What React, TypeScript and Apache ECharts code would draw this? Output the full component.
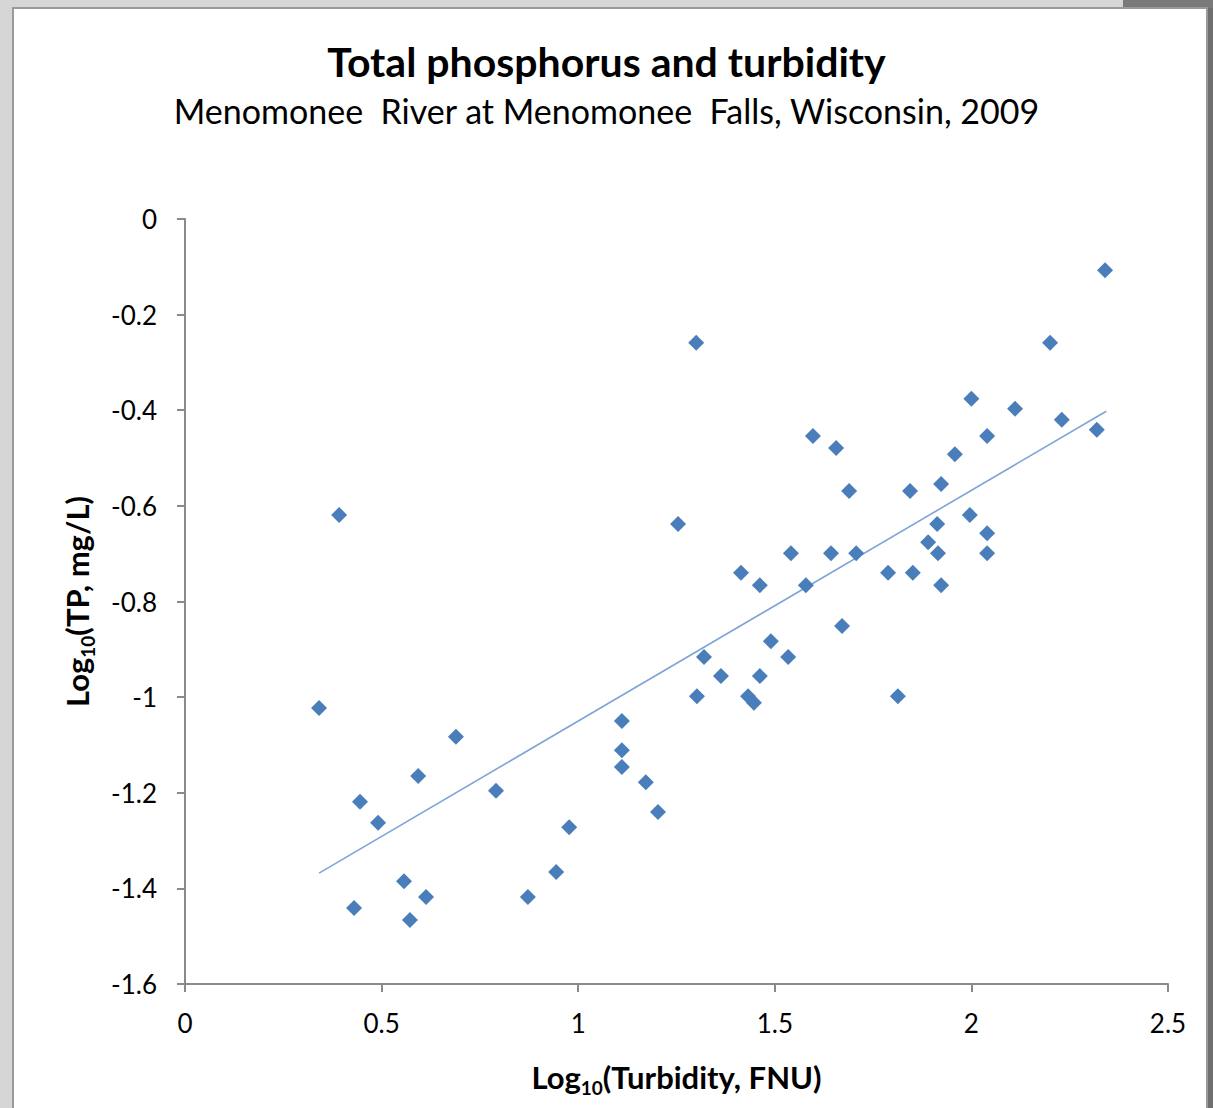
import React, { useEffect, useRef } from "react";
import * as echarts from "echarts";

const titleText = "Total phosphorus and turbidity";
const subtitleText = "Menomonee  River at Menomonee  Falls, Wisconsin, 2009";

// Log10(Turbidity, FNU)
const turbidityLog = [
  0.341, 0.392, 0.430, 0.445, 0.491, 0.557, 0.572, 0.593, 0.613, 0.689,
  0.791, 0.872, 0.944, 0.977, 1.111, 1.111, 1.111, 1.172, 1.203, 1.254,
  1.300, 1.302, 1.320, 1.363, 1.414, 1.432, 1.447, 1.462, 1.462, 1.490,
  1.534, 1.541, 1.579, 1.597, 1.643, 1.656, 1.671, 1.689, 1.707, 1.788,
  1.813, 1.844, 1.851, 1.890, 1.913, 1.915, 1.923, 1.923, 1.958, 2.000,
  1.996, 2.040, 2.040, 2.040, 2.111, 2.200, 2.230, 2.319, 2.340,
];
// Log10(TP, mg/L)
const phosphorusLog = [
  -1.023, -0.619, -1.441, -1.219, -1.263, -1.385, -1.466, -1.165, -1.418, -1.083,
  -1.196, -1.418, -1.366, -1.272, -1.050, -1.111, -1.146, -1.178, -1.240, -0.638,
  -0.259, -0.998, -0.916, -0.956, -0.740, -0.998, -1.012, -0.766, -0.956, -0.883,
  -0.916, -0.699, -0.766, -0.454, -0.699, -0.479, -0.851, -0.569, -0.699, -0.740,
  -0.998, -0.569, -0.740, -0.676, -0.638, -0.699, -0.554, -0.766, -0.492, -0.376,
  -0.619, -0.454, -0.657, -0.699, -0.397, -0.259, -0.420, -0.441, -0.107,
];
// Linear trend line end points
const trendX = [0.341, 2.343];
const trendY = [-1.368, -0.402];

const xTicks = { min: 0, max: 2.5, interval: 0.5 };
const yTicks = { min: -1.6, max: 0, interval: 0.2 };

const FONT = "Lato, 'Open Sans', sans-serif";

const nameRich = {
  a: { fontSize: 31, fontWeight: "bold", color: "#000", fontFamily: FONT },
  s: {
    fontSize: 19,
    fontWeight: "bold",
    color: "#000",
    fontFamily: FONT,
    padding: [22, 0, 0, 0],
  },
};

export default function App() {
  const ref = useRef<HTMLDivElement>(null);

  useEffect(() => {
    if (!ref.current) return;
    const chart = echarts.init(ref.current, null, { renderer: "svg" });
    const points = turbidityLog.map((x, i) => [x, phosphorusLog[i]]);
    const trend = trendX.map((x, i) => [x, trendY[i]]);

    chart.setOption({
      animation: false,
      backgroundColor: "#d6d6d6",
      textStyle: { fontFamily: FONT },
      graphic: [
        {
          type: "rect",
          z: -10,
          shape: { x: 1207, y: 0, width: 6, height: 1108 },
          style: { fill: "#6f6f6f" },
        },
        {
          type: "rect",
          z: -10,
          shape: { x: 1123, y: 0, width: 90, height: 8 },
          style: { fill: "#7a7a7a" },
        },
        {
          type: "rect",
          z: -9,
          shape: { x: 13, y: 8, width: 1194, height: 1110 },
          style: { fill: "#ffffff", stroke: "#9a9a9a", lineWidth: 2 },
        },
      ],
      title: [
        {
          text: titleText,
          left: "center",
          top: 36,
          textStyle: {
            fontFamily: FONT,
            fontSize: 41,
            fontWeight: "bold",
            color: "#000",
          },
        },
        {
          text: subtitleText,
          left: "center",
          top: 88,
          textStyle: {
            fontFamily: FONT,
            fontSize: 34,
            fontWeight: "normal",
            color: "#000",
          },
        },
      ],
      grid: { left: 185, top: 219, right: 45, bottom: 124, containLabel: false },
      xAxis: {
        type: "value",
        min: xTicks.min,
        max: xTicks.max,
        interval: xTicks.interval,
        splitLine: { show: false },
        axisLine: { show: true, onZero: false, lineStyle: { color: "#8a8a8a", width: 2 } },
        axisTick: { show: true, inside: false, length: 8, lineStyle: { color: "#8a8a8a", width: 2 } },
        axisLabel: { fontSize: 26, color: "#000", margin: 26, fontFamily: FONT },
        name: "{a|Log}{s|10}{a|(Turbidity, FNU)}",
        nameLocation: "middle",
        nameGap: 72,
        nameTextStyle: { rich: nameRich },
      },
      yAxis: {
        type: "value",
        min: yTicks.min,
        max: yTicks.max,
        interval: yTicks.interval,
        splitLine: { show: false },
        axisLine: { show: true, onZero: false, lineStyle: { color: "#8a8a8a", width: 2 } },
        axisTick: { show: true, inside: false, length: 8, lineStyle: { color: "#8a8a8a", width: 2 } },
        axisLabel: { fontSize: 26, color: "#000", margin: 28, fontFamily: FONT },
        name: "{a|Log}{s|10}{a|(TP, mg/L)}",
        nameLocation: "middle",
        nameGap: 88,
        nameRotate: 90,
        nameTextStyle: { rich: nameRich },
      },
      series: [
        {
          type: "line",
          data: trend,
          symbol: "none",
          lineStyle: { color: "#7ea4d8", width: 1.6 },
          z: 2,
        },
        {
          type: "scatter",
          data: points,
          symbol: "diamond",
          symbolSize: 16,
          itemStyle: { color: "#4a7ebb", opacity: 1 },
          z: 3,
        },
      ],
    });

    return () => chart.dispose();
  }, []);

  return (
    <div
      ref={ref}
      style={{ position: "fixed", left: 0, top: 0, width: 1213, height: 1108 }}
    />
  );
}
